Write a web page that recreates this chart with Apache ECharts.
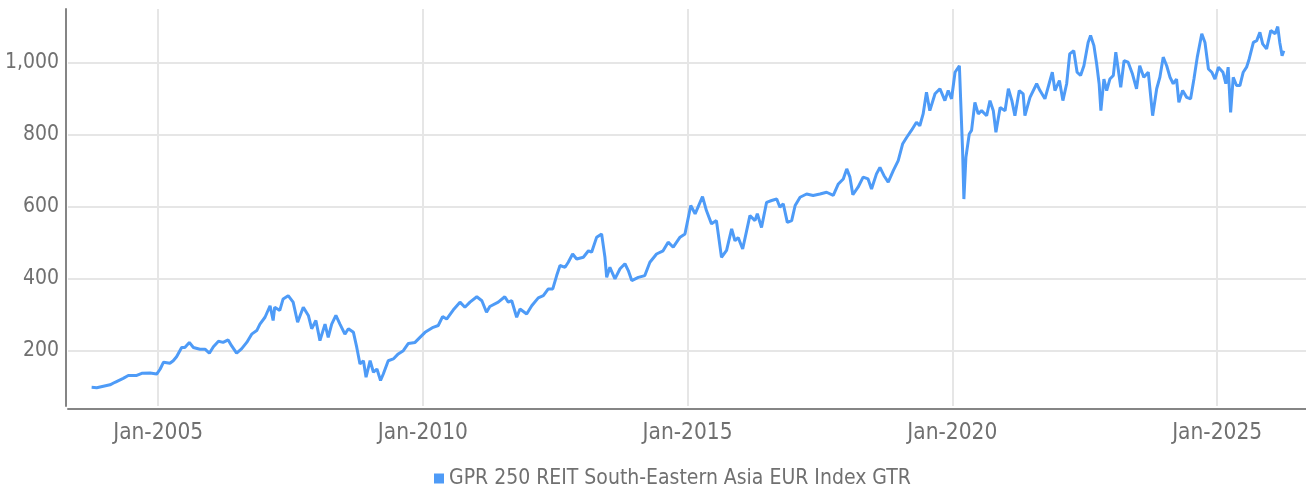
<!DOCTYPE html>
<html>
<head>
<meta charset="utf-8">
<script src="https://cdn.jsdelivr.net/npm/echarts@6/dist/echarts.min.js"></script>
<style>
  html, body { margin: 0; padding: 0; background: #fff; }
  #main { width: 1306px; height: 490px; }
</style>
</head>
<body>
<div id="main"></div>
<script>
// series name
var seriesName = 'GPR 250 REIT South-Eastern Asia EUR Index GTR';

// dates of the readings
var dates = [
  '2003-09-30','2003-11-04','2004-02-04','2004-03-09','2004-05-05','2004-06-09','2004-08-06','2004-09-10','2004-11-06','2004-12-22',
  '2005-01-15','2005-02-07','2005-03-23','2005-04-15','2005-05-08','2005-06-12','2005-07-04','2005-08-04','2005-09-01','2005-10-16','2005-11-20','2005-12-20',
  '2006-01-17','2006-02-21','2006-03-25','2006-04-29','2006-05-22','2006-06-26','2006-07-30','2006-09-04','2006-10-08','2006-11-12','2006-12-04',
  '2007-01-08','2007-02-12','2007-03-05','2007-03-16','2007-04-20','2007-05-13','2007-06-17','2007-07-21','2007-08-21','2007-09-29','2007-11-03','2007-11-26','2007-12-25',
  '2008-01-22','2008-02-26','2008-03-19','2008-04-12','2008-05-11','2008-06-08','2008-07-12','2008-08-05','2008-09-09','2008-10-02','2008-10-24','2008-11-17','2008-12-05',
  '2009-01-02','2009-01-25','2009-02-18','2009-03-15','2009-04-03','2009-05-07','2009-06-11','2009-07-15','2009-08-19','2009-09-23','2009-11-08','2009-12-12',
  '2010-01-16','2010-03-13','2010-04-17','2010-05-17','2010-06-14','2010-07-29','2010-09-14','2010-10-18','2010-11-22',
  '2011-01-08','2011-02-12','2011-03-16','2011-04-08','2011-06-05','2011-07-20','2011-08-13','2011-09-06','2011-10-10','2011-11-02','2011-12-18',
  '2012-01-22','2012-03-07','2012-04-11','2012-05-15','2012-06-15','2012-07-12','2012-08-04','2012-09-08','2012-09-30','2012-10-30','2012-11-27',
  '2013-01-12','2013-02-16','2013-03-10','2013-04-14','2013-05-18','2013-06-10','2013-06-22','2013-07-14','2013-08-18','2013-09-22','2013-10-26','2013-11-18','2013-12-12',
  '2014-01-26','2014-03-12','2014-04-16','2014-06-01','2014-07-16','2014-08-20','2014-09-24','2014-11-10','2014-12-14','2014-12-24',
  '2015-01-23','2015-02-22','2015-04-14','2015-05-11','2015-06-15','2015-07-19','2015-08-23','2015-09-27','2015-11-01','2015-11-24','2015-12-16',
  '2016-01-16','2016-03-06','2016-04-10','2016-04-26','2016-05-25','2016-06-29','2016-08-03','2016-09-07','2016-09-29','2016-10-22','2016-11-19','2016-12-19',
  '2017-01-12','2017-02-15','2017-04-01','2017-05-16','2017-07-02','2017-08-17','2017-10-02','2017-11-06','2017-12-10',
  '2018-01-03','2018-01-25','2018-02-14','2018-03-22','2018-04-26','2018-05-30','2018-06-23','2018-07-27','2018-08-20','2018-09-17','2018-10-16','2018-11-20','2018-12-24',
  '2019-01-24','2019-02-21','2019-03-25','2019-04-29','2019-05-22','2019-06-14','2019-07-07','2019-07-30','2019-09-04','2019-10-08','2019-11-11','2019-12-04','2019-12-27',
  '2020-01-20','2020-02-19','2020-02-28','2020-03-12','2020-03-21','2020-04-04','2020-04-27','2020-05-13','2020-06-05','2020-06-28','2020-07-21','2020-08-25','2020-09-17','2020-10-10','2020-10-28','2020-11-26','2020-12-30',
  '2021-01-22','2021-02-15','2021-03-08','2021-04-07','2021-05-04','2021-05-16','2021-06-20','2021-08-05','2021-08-28','2021-10-01','2021-11-05','2021-11-21','2021-12-09',
  '2022-01-09','2022-02-02','2022-02-28','2022-03-21','2022-04-18','2022-05-11','2022-06-04','2022-06-27','2022-07-26','2022-08-12','2022-09-04','2022-09-23','2022-10-10','2022-10-22','2022-11-12','2022-12-01','2022-12-23',
  '2023-01-16','2023-02-02','2023-02-20','2023-03-08','2023-03-31','2023-04-28','2023-05-28','2023-06-25','2023-07-17','2023-08-14','2023-09-14','2023-10-14','2023-11-11','2023-12-03','2023-12-26',
  '2024-01-19','2024-02-11','2024-03-04','2024-03-27','2024-04-12','2024-05-08','2024-06-05','2024-07-02','2024-07-25','2024-08-17','2024-09-17','2024-10-09','2024-11-02','2024-11-25','2024-12-17',
  '2025-01-10','2025-02-10','2025-03-02','2025-03-18','2025-04-04','2025-04-22','2025-05-15','2025-06-07','2025-06-30','2025-07-23','2025-08-10','2025-09-08','2025-10-01','2025-10-23','2025-11-11','2025-12-08',
  '2026-01-06','2026-02-05','2026-02-23','2026-03-09','2026-03-25','2026-04-06'
];

// index level
var values = [
  97,96,104,111,122,130,130,136,137,134,
  148,167,164,171,182,208,208,222,208,203,203,192,
  210,225,222,229,213,192,204,222,245,255,273,
  292,324,283,320,311,343,352,334,278,320,297,260,283,
  227,273,236,273,297,273,245,260,250,208,162,171,125,
  171,139,148,116,134,171,176,190,199,219,222,236,
  250,264,269,294,287,312,334,320,334,
  349,338,306,322,334,349,334,338,292,315,301,
  324,346,352,371,371,408,436,431,445,468,454,
  459,477,473,515,524,459,403,431,399,427,441,422,394,
  403,408,445,468,477,501,487,515,524,528,
  603,580,628,589,552,561,459,478,538,505,514,
  482,575,561,580,542,612,617,621,598,608,556,561,
  603,626,635,631,635,640,631,663,677,
  705,682,633,654,682,677,649,691,709,686,668,700,728,
  775,793,812,835,825,858,918,867,914,928,895,923,900,
  974,992,895,756,621,737,802,812,890,858,867,853,895,867,807,876,867,
  928,895,853,923,914,853,904,942,923,900,951,974,923,
  951,895,942,1025,1034,974,965,992,1057,1076,1048,997,942,867,955,923,955,
  965,1030,979,932,1006,1002,969,928,992,960,974,853,928,960,1016,
  992,960,942,955,890,923,904,900,955,1016,1081,1057,983,974,955,
  988,974,942,988,862,960,937,937,974,988,1011,1057,1062,1085,1053,1039,
  1090,1081,1101,1057,1020,1034
];

// axis ticks
var yTicks = [200, 400, 600, 800, 1000];
var xTickDates = ['2005-01-01', '2010-01-01', '2015-01-01', '2020-01-01', '2025-01-01'];
var xTickLabels = ['Jan-2005', 'Jan-2010', 'Jan-2015', 'Jan-2020', 'Jan-2025'];
var xRange = ['2003-04-20', '2026-09-06'];

var font = "'Liberation Sans Narrow', 'DejaVu Sans Condensed', 'Roboto', sans-serif";
var textColor = '#707070';

function toTime(d) { return Date.parse(d + 'T00:00:00Z'); }

var seriesData = dates.map(function (d, i) { return [toTime(d), values[i]]; });
var xTickTimes = xTickDates.map(toTime);

var chart = echarts.init(document.getElementById('main'));
chart.setOption({
    animation: false,
    grid: {
        left: 68,
        right: 0,
        top: 9,
        bottom: 84,
        outerBoundsMode: 'none'
    },
    legend: {
        data: [seriesName],
        left: 434,
        top: 468,
        padding: 0,
        icon: 'rect',
        itemWidth: 10,
        itemHeight: 10,
        itemGap: 6,
        textStyle: { fontFamily: font, fontSize: 21, color: textColor }
    },
    xAxis: {
        type: 'value',
        min: toTime(xRange[0]),
        max: toTime(xRange[1]),
        offset: 3,
        axisLine: { show: true, lineStyle: { color: '#858585', width: 2 } },
        axisTick: { show: false, customValues: xTickTimes },
        axisLabel: {
            customValues: xTickTimes,
            formatter: function (val) {
                var i = xTickTimes.indexOf(val);
                return i >= 0 ? xTickLabels[i] : '';
            },
            fontFamily: font,
            fontSize: 22.5,
            color: textColor,
            margin: 13,
            hideOverlap: false
        },
        splitLine: { show: true, lineStyle: { color: '#e6e6e6', width: 2 } }
    },
    yAxis: {
        type: 'value',
        min: 45,
        max: 1150,
        offset: 2,
        axisLine: { show: true, lineStyle: { color: '#858585', width: 2 } },
        axisTick: { show: false, customValues: yTicks },
        axisLabel: {
            customValues: yTicks,
            formatter: function (v) { return v.toLocaleString('en-US'); },
            fontFamily: font,
            fontSize: 21,
            color: textColor,
            margin: 7
        },
        splitLine: { show: true, lineStyle: { color: '#e6e6e6', width: 2 } }
    },
    series: [{
        name: seriesName,
        type: 'line',
        data: seriesData,
        showSymbol: false,
        symbol: 'none',
        lineStyle: { color: '#4e9bf7', width: 3 },
        itemStyle: { color: '#4e9bf7' }
    }]
});
</script>
</body>
</html>
